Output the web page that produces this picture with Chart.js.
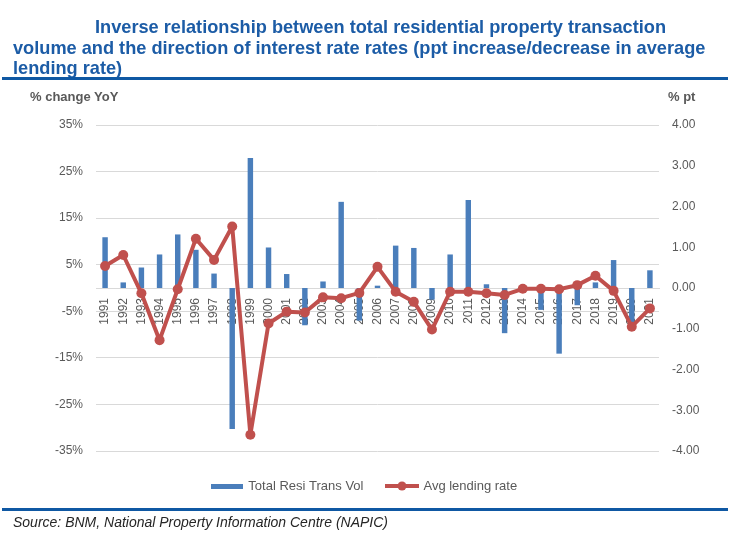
<!DOCTYPE html>
<html>
<head>
<meta charset="utf-8">
<script src="https://cdn.jsdelivr.net/npm/chart.js"></script>
<style>
  body { margin: 0; background: #fff; font-family: "Liberation Sans", Arial, sans-serif; }
  #wrap { position: relative; width: 743px; height: 546px; overflow: hidden; }
  canvas { position: absolute; left: 0; top: 0; }
  .t { position: absolute; white-space: nowrap; }
  .title { color: #1c5ca6; font-weight: bold; font-size: 18.2px; line-height: 20px; }
  .unit { color: #595959; font-weight: bold; font-size: 13px; line-height: 14px; }
  .rule { position: absolute; left: 2px; width: 726px; height: 3px; background: #0f58a3; }
</style>
</head>
<body>
<div id="wrap">
  <canvas id="myChart" width="743" height="546"></canvas>
  <div class="t title" style="left:95px; top:17px;">Inverse relationship between total residential property transaction</div>
  <div class="t title" style="left:13px; top:38px;">volume and the direction of interest rate rates (ppt increase/decrease in average</div>
  <div class="t title" style="left:13px; top:58px;">lending rate)</div>
  <div class="rule" style="top:77px;"></div>
  <div class="t unit" style="left:30px; top:90px;">% change YoY</div>
  <div class="t unit" style="left:668px; top:90px;">% pt</div>
  <div class="rule" style="top:508px;"></div>
  <div class="t" style="left:13px; top:514px; font-size:14px; font-style:italic; color:#262626;">Source: BNM, National Property Information Centre (NAPIC)</div>
</div>

<script>
  // années
  const years = ['1991', '1992', '1993', '1994', '1995', '1996', '1997', '1998', '1999', '2000',
    '2001', '2002', '2003', '2004', '2005', '2006', '2007', '2008', '2009', '2010',
    '2011', '2012', '2013', '2014', '2015', '2016', '2017', '2018', '2019', '2020', '2021'];

  // volume total des transactions résidentielles (% YoY)
  const transVol = [10.9, 1.2, 4.4, 7.2, 11.5, 8.2, 3.1, -30.3, 27.9, 8.7,
    3.0, -8.0, 1.4, 18.5, -7.0, 0.5, 9.1, 8.6, -2.5, 7.2,
    18.9, 0.8, -9.7, 0, -4.7, -14.1, -3.7, 1.2, 6.0, -7.3, 3.8];

  // variation du taux moyen (ppt)
  const lendingRate = [0.54, 0.81, -0.13, -1.28, -0.03, 1.21, 0.69, 1.51, -3.6, -0.87,
    -0.58, -0.6, -0.23, -0.25, -0.12, 0.52, -0.09, -0.34, -1.02, -0.09,
    -0.09, -0.13, -0.17, -0.02, -0.02, -0.03, 0.07, 0.3, -0.07, -0.95, -0.5];

  // graduations des axes
  const leftTicks = [-35, -25, -15, -5, 5, 15, 25, 35];
  const rightTicks = [-4, -3, -2, -1, 0, 1, 2, 3, 4];

  const blue = '#4a7ebb';
  const red = '#c0504d';
  const grey = '#595959';

  // petits dessins pour la légende
  const barSwatch = document.createElement('canvas');
  barSwatch.width = 32; barSwatch.height = 5;
  const bc = barSwatch.getContext('2d');
  bc.fillStyle = blue;
  bc.fillRect(0, 0, 32, 5);

  const lineSwatch = document.createElement('canvas');
  lineSwatch.width = 34; lineSwatch.height = 10;
  const lc = lineSwatch.getContext('2d');
  lc.strokeStyle = red; lc.lineWidth = 4;
  lc.beginPath(); lc.moveTo(0, 5); lc.lineTo(34, 5); lc.stroke();
  lc.fillStyle = red;
  lc.beginPath(); lc.arc(17, 5, 4.5, 0, Math.PI * 2); lc.fill();

  const data = {
    labels: years,
    datasets: [
      {
        type: 'bar',
        label: 'Total Resi Trans Vol',
        data: transVol,
        backgroundColor: blue,
        yAxisID: 'y',
        barPercentage: 0.3,
        categoryPercentage: 1,
        order: 1
      },
      {
        type: 'line',
        label: 'Avg lending rate',
        data: lendingRate,
        borderColor: red,
        backgroundColor: red,
        borderWidth: 4,
        borderJoinStyle: 'round',
        borderCapStyle: 'round',
        pointRadius: 5,
        pointBorderWidth: 0,
        pointBackgroundColor: red,
        tension: 0,
        yAxisID: 'y1',
        order: 0
      }
    ]
  };

  const config = {
    type: 'bar',
    data: data,
    options: {
      responsive: false,
      animation: false,
      layout: { padding: { top: 125, left: 0, right: 14, bottom: 43.5 } },
      plugins: {
        tooltip: { enabled: false },
        // petit espace entre le graphique et la légende
        title: {
          display: true,
          text: '',
          position: 'bottom',
          weight: 500,
          padding: 0,
          font: { size: 5, lineHeight: 1 }
        },
        legend: {
          position: 'bottom',
          labels: {
            usePointStyle: true,
            pointStyleWidth: 30,
            padding: 23.5,
            color: grey,
            font: { family: 'Liberation Sans', size: 13 },
            generateLabels: chart => chart.data.datasets.map((ds, i) => ({
              text: ds.label,
              pointStyle: i === 0 ? barSwatch : lineSwatch,
              fillStyle: ds.backgroundColor,
              strokeStyle: ds.backgroundColor,
              lineWidth: 0,
              fontColor: grey,
              hidden: false,
              datasetIndex: i
            }))
          }
        }
      },
      scales: {
        x: {
          position: { y: 0 },
          offset: true,
          grid: { display: false, drawTicks: false },
          border: { display: true, color: '#d9d9d9', width: 1 },
          ticks: {
            autoSkip: false,
            minRotation: 90,
            maxRotation: 90,
            padding: 10,
            color: grey,
            font: { family: 'Liberation Sans', size: 12 }
          }
        },
        y: {
          position: 'left',
          min: leftTicks[0],
          max: leftTicks[leftTicks.length - 1],
          afterFit: s => { s.width = 96; },
          afterBuildTicks: s => { s.ticks = leftTicks.map(v => ({ value: v })); },
          grid: { color: '#d9d9d9', drawTicks: false },
          border: { display: false },
          ticks: {
            padding: 13,
            color: grey,
            font: { family: 'Liberation Sans', size: 12 },
            callback: v => v + '%'
          }
        },
        y1: {
          position: 'right',
          min: rightTicks[0],
          max: rightTicks[rightTicks.length - 1],
          afterFit: s => { s.width = 70; },
          afterBuildTicks: s => { s.ticks = rightTicks.map(v => ({ value: v })); },
          grid: { display: false, drawTicks: false },
          border: { display: false },
          ticks: {
            padding: 13,
            color: grey,
            font: { family: 'Liberation Sans', size: 12 },
            callback: v => v.toFixed(2)
          }
        }
      }
    }
  };

  const myChart = new Chart(document.getElementById('myChart'), config);
</script>
</body>
</html>
